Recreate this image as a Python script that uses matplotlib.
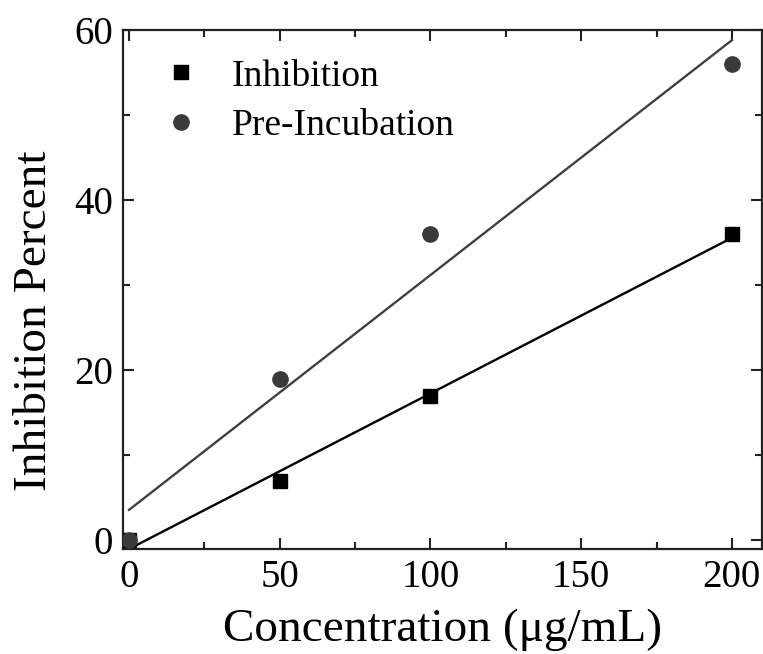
import numpy as np
import matplotlib as mpl
mpl.use("Agg")
from matplotlib import pyplot as plt
from matplotlib.ticker import MultipleLocator

mpl.rcParams["font.family"] = ["Liberation Serif", "DejaVu Serif"]

# Data
conc = [0, 50, 100, 200]
inhibition = [0, 7, 17, 36]
pre_incubation = [0, 19, 36, 56]

fig = plt.figure(figsize=(7.63, 6.54), dpi=100)
ax = fig.add_axes((123 / 763, 1 - 549 / 654, (762 - 123) / 763, (549 - 30) / 654))

# Linear fits drawn over 0..200
xf = np.array([0, 200])
k1, b1 = np.polyfit(conc, inhibition, 1)
k2, b2 = np.polyfit(conc, pre_incubation, 1)
ax.plot(xf, k1 * xf + b1, color="black", lw=1.7, zorder=2)
ax.plot(xf, k2 * xf + b2, color="#404040", lw=1.7, zorder=2)

ax.plot(conc, inhibition, "s", color="black", ms=10, label="Inhibition", zorder=3)
ax.plot(conc, pre_incubation, "o", color="#3a3a3a", ms=11, label="Pre-Incubation", zorder=3)

ax.set_xlim(-2, 210)
ax.set_ylim(-1, 60)
ax.xaxis.set_major_locator(MultipleLocator(50))
ax.xaxis.set_minor_locator(MultipleLocator(25))
ax.yaxis.set_major_locator(MultipleLocator(20))
ax.yaxis.set_minor_locator(MultipleLocator(10))
ax.tick_params(which="both", direction="in", top=True, right=True,
               width=1.5, labelsize=28, color="#222222")
ax.tick_params(which="major", length=8, pad=7)
ax.tick_params(which="minor", length=5)
for s in ax.spines.values():
    s.set_linewidth(1.6)
    s.set_color("#222222")

ax.set_xlabel("Concentration (\u03bcg/mL)", fontsize=34, labelpad=9)
ax.set_ylabel("Inhibition Percent", fontsize=34, labelpad=13, y=0.44)

ax.legend(loc="upper left", frameon=False, fontsize=27, handlelength=1.5,
          handletextpad=0.6, borderaxespad=0.0, borderpad=0.4,
          bbox_to_anchor=(0.024, 0.973), labelspacing=0.4)

fig.savefig("out.png", dpi=100)
